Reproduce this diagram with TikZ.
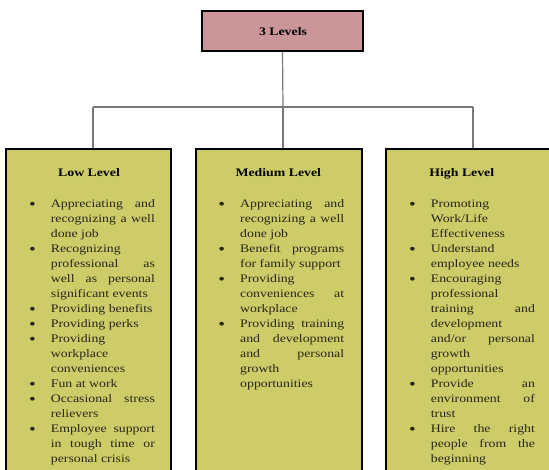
\documentclass[tikz,border=0pt]{standalone}
\usepackage{fontspec}
\setmainfont[FakeStretch=1.2]{Liberation Serif}
\definecolor{boxc}{RGB}{205,204,104}
\definecolor{topc}{RGB}{202,150,154}
\definecolor{bodyc}{RGB}{40,38,24}
\definecolor{linec}{RGB}{120,120,120}
\newlength\cw \setlength\cw{104pt}
\newcommand\bul{\smash{\raisebox{-1.8pt}{\fontsize{16}{0}\selectfont\textbullet}}}
\newcommand\jl[1]{\hbox to \cw{#1}}
\newcommand\lastl[1]{\hbox to \cw{#1\hfil}}
\newcommand\bj[1]{\hbox to \cw{\llap{\bul\hskip 15pt}#1}}
\newcommand\bl[1]{\hbox to \cw{\llap{\bul\hskip 15pt}#1\hfil}}
\newcommand\col[1]{\vtop{\hbadness=10000 \hfuzz=20pt \baselineskip=15pt #1}}
\begin{document}
\begin{tikzpicture}[x=1pt,y=-1pt,
  lvl/.style={draw=black, line width=1.8pt, fill=boxc, inner sep=0pt, minimum height=341pt},
  topbox/.style={draw=black, line width=1.8pt, fill=topc, inner sep=0pt,
    minimum width=161pt, minimum height=40pt},
  ttl/.style={anchor=base, inner sep=0pt, font=\fontsize{11.5}{14}\selectfont\bfseries, text=black},
  body/.style={anchor=base west, inner sep=0pt, font=\fontsize{11.5}{15}\selectfont, text=bodyc},
  conn/.style={draw=linec, line width=1.2pt}]
\useasboundingbox (0,0) rectangle (549,469);
\fill[white] (0,0) rectangle (549,469);
\clip (0,0) rectangle (549,469);
% boxes
\node[topbox] (top) at (282.5,31) {};
\node[ttl] (toptxt) at (283,35.7) {3 Levels};
\node[lvl, minimum width=165pt] (low) at (88.5,319.5) {};
\node[lvl, minimum width=166pt] (med) at (279,319.5) {};
\node[lvl, minimum width=174pt] (high) at (473,319.5) {};
% connectors
\coordinate (hub) at (283,107);
\coordinate (lj) at (93,107);
\coordinate (rj) at (473,107);
\draw[conn] (top.south) -- (hub);
\draw[conn] (lj) -- (rj);
\draw[conn] (lj) -- (lj |- low.north);
\draw[conn] (hub) -- (hub |- med.north);
\draw[conn] (rj) -- (rj |- high.north);
% titles
\node[ttl] (lowt) at (89,176.7) {Low Level};
\node[ttl] (medt) at (278.3,176.7) {Medium Level};
\node[ttl] (hight) at (461.8,176.7) {High Level};
% bodies
\node[body] (lowb) at (50.7,207.5) {\col{%
\bj{Appreciating and}
\jl{recognizing a well}
\lastl{done job}
\bl{Recognizing}
\jl{professional as}
\jl{well as personal}
\lastl{significant events}
\bl{Providing benefits}
\bl{Providing perks}
\bl{Providing}
\lastl{workplace}
\lastl{conveniences}
\bl{Fun at work}
\bj{Occasional stress}
\lastl{relievers}
\bj{Employee support}
\jl{in tough time or}
\lastl{personal crisis}}};
\node[body] (medb) at (240,207.5) {\col{%
\bj{Appreciating and}
\jl{recognizing a well}
\lastl{done job}
\bj{Benefit programs}
\lastl{for family support}
\bl{Providing}
\jl{conveniences at}
\lastl{workplace}
\bj{Providing training}
\jl{and development}
\jl{and personal}
\lastl{growth}
\lastl{opportunities}}};
\node[body] (highb) at (430.7,207.5) {\col{%
\bl{Promoting}
\lastl{Work/Life}
\lastl{Effectiveness}
\bl{Understand}
\lastl{employee needs}
\bl{Encouraging}
\lastl{professional}
\jl{training and}
\lastl{development}
\jl{and/or personal}
\lastl{growth}
\lastl{opportunities}
\bj{Provide an}
\jl{environment of}
\lastl{trust}
\bj{Hire the right}
\jl{people from the}
\lastl{beginning}}};
\end{tikzpicture}
\end{document}
